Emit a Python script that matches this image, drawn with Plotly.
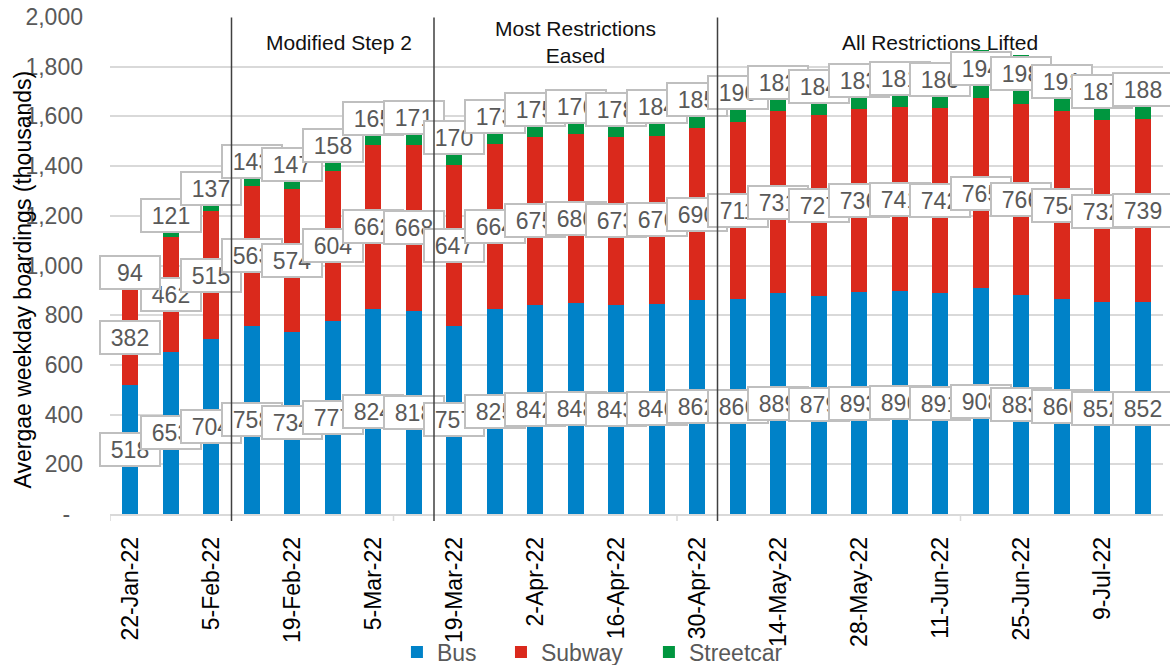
import plotly.graph_objects as go

# Weekly average weekday boardings (thousands), Jan-Jul 2022
weeks = [
    "22-Jan-22", "29-Jan-22", "5-Feb-22", "12-Feb-22", "19-Feb-22", "26-Feb-22",
    "5-Mar-22", "12-Mar-22", "19-Mar-22", "26-Mar-22", "2-Apr-22", "9-Apr-22",
    "16-Apr-22", "23-Apr-22", "30-Apr-22", "7-May-22", "14-May-22", "21-May-22",
    "28-May-22", "4-Jun-22", "11-Jun-22", "18-Jun-22", "25-Jun-22", "2-Jul-22",
    "9-Jul-22", "16-Jul-22",
]
bus = [518, 653, 704, 758, 734, 777, 824, 818, 757, 825, 842, 848, 843,
       846, 862, 866, 889, 879, 893, 896, 891, 908, 883, 866, 852, 852]
subway = [382, 462, 515, 563, 574, 604, 662, 668, 647, 664, 675, 680, 673,
          676, 690, 711, 731, 727, 736, 741, 742, 765, 766, 754, 732, 739]
streetcar = [94, 121, 137, 143, 147, 158, 165, 171, 170, 173, 175, 176, 178,
             184, 185, 190, 182, 184, 183, 181, 186, 194, 198, 191, 187, 188]

tick_weeks = weeks[::2]
y_ticks = list(range(0, 2001, 200))
y_ticktext = ["-\u00a0\u00a0"] + [f"{v:,}" for v in y_ticks[1:]]

# Phase boundaries (between weeks) and their captions
phase_bounds = [2.5, 7.5, 14.5]
phase_names = ["Modified Step 2", "Most Restrictions<br>Eased", "All Restrictions Lifted"]
phase_centres = [5.15, 11.0, 20.0]
phase_y = [0.948, 0.949, 0.948]

BLUE, RED, GREEN = "#0082C8", "#DA291C", "#00963F"
FONT = "Liberation Sans, Arial, sans-serif"

series = [
    ("Bus", bus, BLUE, "legend", 0.2725),
    ("Subway", subway, RED, "legend2", 0.3713),
    ("Streetcar", streetcar, GREEN, "legend3", 0.5118),
]

fig = go.Figure()
for name, vals, col, leg, _ in series:
    fig.add_trace(go.Bar(x=weeks, y=vals, name=name, legend=leg,
                         marker=dict(color=col, line=dict(width=0))))

annotations = []


def value_box(x, y, value, yshift=0):
    return dict(
        x=x, y=y, xref="x", yref="y", text=str(value), showarrow=False,
        font=dict(family=FONT, size=23, color="#595959"),
        bgcolor="white", bordercolor="#BFBFBF", borderwidth=2, borderpad=0,
        width=58, height=31, align="center", yshift=yshift,
    )


# Labels sit in the middle of each stacked segment, drawn series by series
for w, b in zip(weeks, bus):
    annotations.append(value_box(w, b / 2, b))
for w, b, s in zip(weeks, bus, subway):
    annotations.append(value_box(w, b + s / 2, s))
for w, b, s, t in zip(weeks, bus, subway, streetcar):
    annotations.append(value_box(w, b + s + t / 2, t, yshift=6))

# Phase divider lines drawn above the labels
for xb in phase_bounds:
    annotations.append(dict(
        x=xb, y=-0.014, xref="x", yref="paper", text="", showarrow=True,
        ax=0, ay=-505, arrowhead=0, arrowwidth=1.5, arrowcolor="#404040",
        standoff=0, startstandoff=0,
    ))

for xc, yc, txt in zip(phase_centres, phase_y, phase_names):
    annotations.append(dict(
        x=xc, y=yc, xref="x", yref="paper", text=txt, showarrow=False,
        font=dict(family=FONT, size=21, color="#111111"), align="center",
        xanchor="center", yanchor="middle",
    ))

annotations.append(dict(
    x=-0.0826, y=0.472, xref="paper", yref="paper", showarrow=False,
    text="Avergae weekday boardings (thousands)", textangle=-90,
    font=dict(family=FONT, size=23, color="#000000"),
    xanchor="center", yanchor="middle",
))

# Small tick marks along the category axis
shapes = [
    dict(type="line", xref="x", yref="paper", x0=xt, x1=xt, y0=0, y1=-7 / 497,
         line=dict(color="#D9D9D9", width=1.5))
    for xt in [-0.5, 6.5, 13.5, 20.5]
]

legend_style = dict(
    orientation="h", xanchor="left", y=-0.278, yanchor="middle",
    font=dict(family=FONT, size=23, color="#595959"),
    bgcolor="rgba(0,0,0,0)",
)
legends = {leg: dict(legend_style, x=lx) for _, _, _, leg, lx in series}

fig.update_layout(
    width=1170, height=665,
    margin=dict(l=110, r=7, t=17, b=151, autoexpand=False),
    paper_bgcolor="white", plot_bgcolor="white",
    font=dict(family=FONT, size=23, color="#595959"),
    barmode="stack", bargap=0.6,
    showlegend=True,
    annotations=annotations,
    shapes=shapes,
    **legends,
)
fig.update_xaxes(
    type="category", categoryorder="array", categoryarray=weeks,
    range=[-0.5, len(weeks) - 0.5], automargin=False,
    tickmode="array", tickvals=tick_weeks, ticktext=tick_weeks,
    tickangle=-90, tickfont=dict(family=FONT, size=23, color="#000000"),
    showgrid=False, showline=True, linecolor="#D9D9D9", linewidth=1.5,
    ticks="", ticklabelstandoff=12,
)
fig.update_yaxes(
    range=[0, 2000], tickmode="array", tickvals=y_ticks, ticktext=y_ticktext,
    tickfont=dict(family=FONT, size=23, color="#595959"), automargin=False,
    showgrid=True, gridcolor="#D9D9D9", gridwidth=1.5,
    zeroline=False, showline=False, ticks="", ticklabelstandoff=26,
)

fig.write_html("out.html")
